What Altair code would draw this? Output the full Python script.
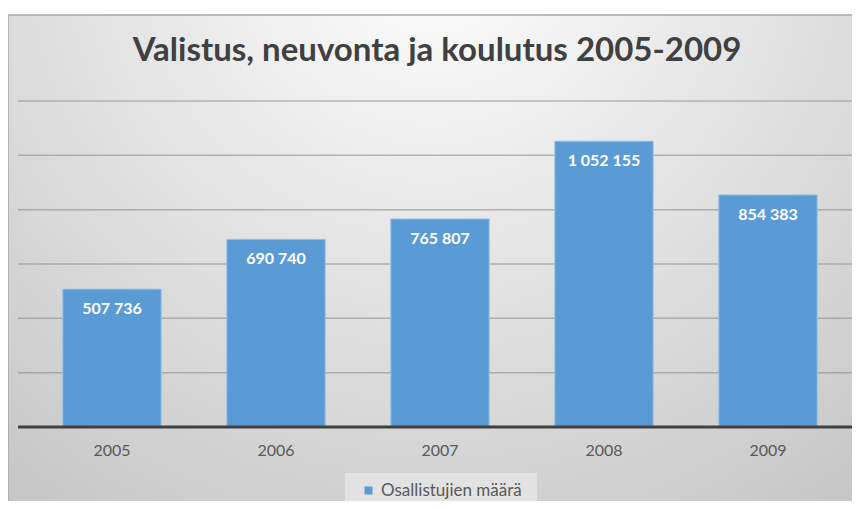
import altair as alt
import pandas as pd

years = ["2005", "2006", "2007", "2008", "2009"]
values = [507736, 690740, 765807, 1052155, 854383]
series = "Osallistujien määrä"
title_text = "Valistus, neuvonta ja koulutus 2005-2009"
grid_values = [200000, 400000, 600000, 800000, 1000000, 1200000]

labels = [f"{v:,}".replace(",", " ") for v in values]
df = pd.DataFrame({"year": years, "v": values, "label": labels, "series": [series] * len(years)})
grid_df = pd.DataFrame({"g": grid_values})

W, H = 820, 326
FONT = "Lato"

bg_grad = alt.RadialGradient(
    gradient="radial", x1=0.5, y1=0.12, r1=0, x2=0.5, y2=0.12, r2=0.85,
    stops=[alt.GradientStop(offset=0, color="#ffffff"),
           alt.GradientStop(offset=1, color="#c4c4c4")],
)

one = pd.DataFrame({"a": [0]})

bg = alt.Chart(one).mark_rect(color=bg_grad, stroke="#a8a8a8", strokeWidth=1.5, clip=False).encode(
    x=alt.value(-22), x2=alt.value(830), y=alt.value(-86), y2=alt.value(410)
)

title = alt.Chart(one).mark_text(text=title_text, fontSize=33, font=FONT, fontWeight="bold",
                                 color="#404040", baseline="middle", align="center").encode(
    x=alt.value(W / 2 - 3), y=alt.value(-50)
)

legend_box = alt.Chart(one).mark_rect(color="#e6e6e6", opacity=0.8, clip=False).encode(
    x=alt.value(315), x2=alt.value(507), y=alt.value(372), y2=alt.value(406)
)

y_scale = alt.Scale(domain=[0, 1200000])

grid = alt.Chart(grid_df).mark_rule(color="#8c8c8c", opacity=0.6, strokeWidth=1.5, clip=False).encode(
    y=alt.Y("g:Q", scale=y_scale, axis=None), x=alt.value(-12), x2=alt.value(822)
)

x_enc = alt.X("year:N", sort=years,
              scale=alt.Scale(paddingInner=0.4, paddingOuter=0.2),
              axis=alt.Axis(title=None, labelAngle=0, domain=False, ticks=False,
                            labelFontSize=16, labelColor="#595959", labelFont=FONT,
                            labelPadding=15, zindex=1))

bars = alt.Chart(df).mark_bar(stroke="#9cc2e8", strokeWidth=1).encode(
    x=x_enc,
    y=alt.Y("v:Q", scale=y_scale, axis=None),
    color=alt.Color("series:N", scale=alt.Scale(range=["#5B9BD5"]),
                    legend=alt.Legend(title=None, orient="none", legendX=326, legendY=377,
                                      symbolType="square", symbolSize=64, symbolStrokeWidth=0,
                                      labelFont=FONT, labelFontSize=17, labelColor="#595959",
                                      padding=4, zindex=1)),
)

text = alt.Chart(df).mark_text(color="white", fontWeight="bold", fontSize=16, font=FONT,
                               dy=20, baseline="middle").encode(
    x=alt.X("year:N", sort=years), y=alt.Y("v:Q", scale=y_scale), text="label:N"
)

base_rule = alt.Chart(one).mark_rule(color="#404040", strokeWidth=3, clip=False).encode(
    x=alt.value(-12), x2=alt.value(822), y=alt.datum(0)
)

chart = alt.layer(bg, title, legend_box, grid, bars, text, base_rule).properties(
    width=W, height=H,
    padding={"left": 22, "top": 93, "right": 2, "bottom": 74},
    autosize=alt.AutoSizeParams(type="none"),
).configure_view(stroke=None).configure(background="white")

chart.save("out.html", embed_options={"renderer": "svg", "actions": False})
